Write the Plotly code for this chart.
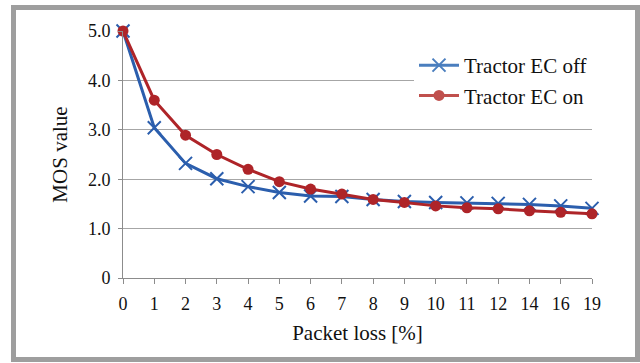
import plotly.graph_objects as go

# Packet loss levels (%) used as categories on the x axis
packet_loss = ["0", "1", "2", "3", "4", "5", "6", "7", "8", "9",
               "10", "11", "12", "14", "16", "19"]

# Mean opinion score per packet-loss level
mos_ec_off = [5.00, 3.04, 2.32, 2.01, 1.85, 1.73, 1.66, 1.65, 1.59, 1.55,
              1.53, 1.52, 1.51, 1.49, 1.46, 1.41]
mos_ec_on = [5.00, 3.60, 2.89, 2.50, 2.20, 1.95, 1.80, 1.70, 1.59, 1.53,
             1.46, 1.42, 1.40, 1.36, 1.33, 1.30]

y_ticks = [0, 1, 2, 3, 4, 5]
y_tick_text = ["0", "1.0", "2.0", "3.0", "4.0", "5.0"]

BLUE_LINE, BLUE_KEY = "#2B5EAD", "#4A7EBE"
RED_LINE, RED_KEY = "#AE2428", "#C0504D"
FONT = "Liberation Serif, Times New Roman, serif"

fig = go.Figure()

fig.add_trace(go.Scatter(
    x=packet_loss, y=mos_ec_off, mode="lines+markers", name="Tractor EC off",
    line=dict(color=BLUE_LINE, width=3),
    marker=dict(symbol="x-thin-open", size=13, line=dict(color=BLUE_LINE, width=2)),
    cliponaxis=False, showlegend=False,
))
fig.add_trace(go.Scatter(
    x=packet_loss, y=mos_ec_on, mode="lines+markers", name="Tractor EC on",
    line=dict(color=RED_LINE, width=3),
    marker=dict(symbol="circle", size=11, color=RED_LINE),
    cliponaxis=False, showlegend=False,
))

# Legend keys drawn in the lighter series tints
fig.add_trace(go.Scatter(
    x=[None], y=[None], mode="lines+markers", name="Tractor EC off",
    line=dict(color=BLUE_KEY, width=3),
    marker=dict(symbol="x-thin-open", size=13, line=dict(color=BLUE_KEY, width=2)),
))
fig.add_trace(go.Scatter(
    x=[None], y=[None], mode="lines+markers", name="Tractor EC on",
    line=dict(color=RED_KEY, width=3),
    marker=dict(symbol="circle", size=11, color=RED_KEY),
))

# Grey frame around the whole chart
W, H = 640, 363
L, R, T, B = 123, 48, 31, 85
pw, ph = W - L - R, H - T - B


def px_x(v):
    return (v - L) / pw


def px_y(v):
    return (H - B - v) / ph


fig.add_shape(type="rect", xref="paper", yref="paper",
              x0=px_x(13.5), x1=px_x(637.5), y0=px_y(359.5), y1=px_y(7.5),
              line=dict(color="#9E9E9E", width=5), layer="below")

fig.update_layout(
    width=W, height=H,
    margin=dict(l=L, r=R, t=T, b=B),
    paper_bgcolor="white", plot_bgcolor="white",
    font=dict(family=FONT, color="#111111", size=18),
    legend=dict(
        x=px_x(414), y=px_y(45), xanchor="left", yanchor="top",
        bgcolor="white", font=dict(family=FONT, size=21, color="#111111"),
        tracegroupgap=0, itemwidth=40,
    ),
    xaxis=dict(
        type="category", range=[0, len(packet_loss) - 1],
        showgrid=False, showline=True, linecolor="#8C8C8C", linewidth=1,
        ticks="outside", ticklen=5, tickcolor="#8C8C8C",
        ticklabelstandoff=4,
        tickfont=dict(family=FONT, size=18),
        title=dict(text="Packet loss [%]", font=dict(family=FONT, size=21), standoff=12),
        zeroline=False,
    ),
    yaxis=dict(
        range=[0, 5], tickvals=y_ticks, ticktext=y_tick_text,
        showgrid=True, gridcolor="#A6A6A6", gridwidth=1,
        showline=True, linecolor="#8C8C8C", linewidth=1,
        ticks="outside", ticklen=4, tickcolor="#8C8C8C",
        ticklabelstandoff=4,
        tickfont=dict(family=FONT, size=18),
        title=dict(text="MOS value", font=dict(family=FONT, size=21), standoff=14),
        zeroline=False,
    ),
)

fig.write_html("out.html")
